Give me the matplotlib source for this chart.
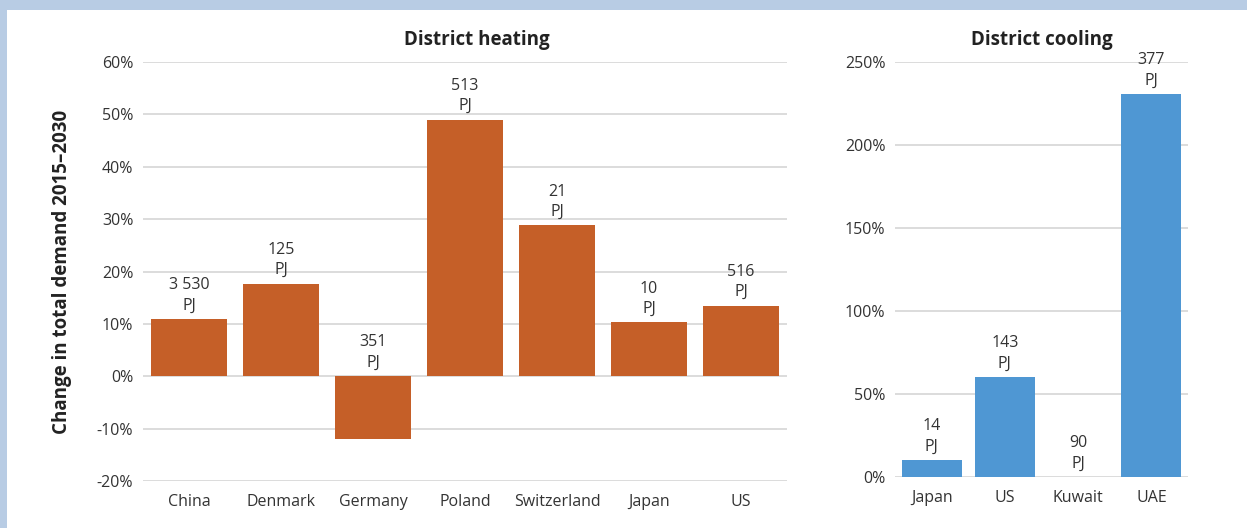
import matplotlib.pyplot as plt
from matplotlib.patches import Rectangle

plt.rcParams['font.family'] = ['Open Sans', 'DejaVu Sans']

# District heating data
heat_countries = ["China", "Denmark", "Germany", "Poland", "Switzerland", "Japan", "US"]
heat_change = [10.9, 17.7, -12.0, 49.0, 28.8, 10.3, 13.5]
heat_labels = ["3 530\nPJ", "125\nPJ", "351\nPJ", "513\nPJ", "21\nPJ", "10\nPJ", "516\nPJ"]

# District cooling data
cool_countries = ["Japan", "US", "Kuwait", "UAE"]
cool_change = [10.2, 60.2, 0.0, 230.7]
cool_labels = ["14\nPJ", "143\nPJ", "90\nPJ", "377\nPJ"]

orange = "#C55F28"
blue = "#4F97D3"
grid_col = "#DCDCDC"
text_col = "#333333"

fig = plt.figure(figsize=(12.47, 5.28), dpi=100)
fig.patch.set_facecolor("#B8CCE4")
fig.patches.append(Rectangle((7 / 1247, 0), 1, 518 / 528, transform=fig.transFigure,
                             facecolor="white", edgecolor="none", zorder=-10))

ax1 = fig.add_axes([143 / 1247, 1 - 481 / 528, 644 / 1247, 419 / 528])
ax2 = fig.add_axes([895 / 1247, 1 - 477 / 528, 293 / 1247, 415 / 528])


def style(ax):
    ax.set_facecolor("none")
    for s in ax.spines.values():
        s.set_visible(False)
    ax.yaxis.grid(True, color=grid_col, linewidth=1.4)
    ax.set_axisbelow(True)
    ax.tick_params(length=0, labelsize=11.5, labelcolor=text_col)
    ax.tick_params(axis="x", pad=9)
    ax.tick_params(axis="y", pad=7)


# Left chart
x1 = range(len(heat_countries))
ax1.bar(x1, heat_change, width=0.83, color=orange)
ax1.set_xlim(-0.5, len(heat_countries) - 0.5)
ax1.set_ylim(-20, 60)
ax1.set_yticks(range(-20, 61, 10))
ax1.set_yticklabels([f"{v}%" for v in range(-20, 61, 10)])
ax1.set_xticks(list(x1))
ax1.set_xticklabels(heat_countries)
style(ax1)
for i, v in enumerate(heat_change):
    ax1.annotate(heat_labels[i], (i, max(v, 0)), xytext=(0, 4), textcoords="offset points",
                 ha="center", va="bottom", fontsize=11.5, color=text_col, linespacing=1.35)
ax1.set_title("District heating", fontsize=13.5, fontweight="bold", color="#222222",
              x=0.518, pad=12)
ax1.set_ylabel("Change in total demand 2015–2030", fontsize=13.5, fontweight="bold",
               color="#222222", labelpad=18)

# Right chart
x2 = range(len(cool_countries))
ax2.bar(x2, cool_change, width=0.82, color=blue)
ax2.set_xlim(-0.5, len(cool_countries) - 0.5)
ax2.set_ylim(0, 250)
ax2.set_yticks(range(0, 251, 50))
ax2.set_yticklabels([f"{v}%" for v in range(0, 251, 50)])
ax2.set_xticks(list(x2))
ax2.set_xticklabels(cool_countries)
style(ax2)
for i, v in enumerate(cool_change):
    ax2.annotate(cool_labels[i], (i, v), xytext=(0, 4), textcoords="offset points",
                 ha="center", va="bottom", fontsize=11.5, color=text_col, linespacing=1.35)
ax2.set_title("District cooling", fontsize=13.5, fontweight="bold", color="#222222", pad=12)

plt.savefig("out.png", dpi=100, facecolor=fig.get_facecolor())
